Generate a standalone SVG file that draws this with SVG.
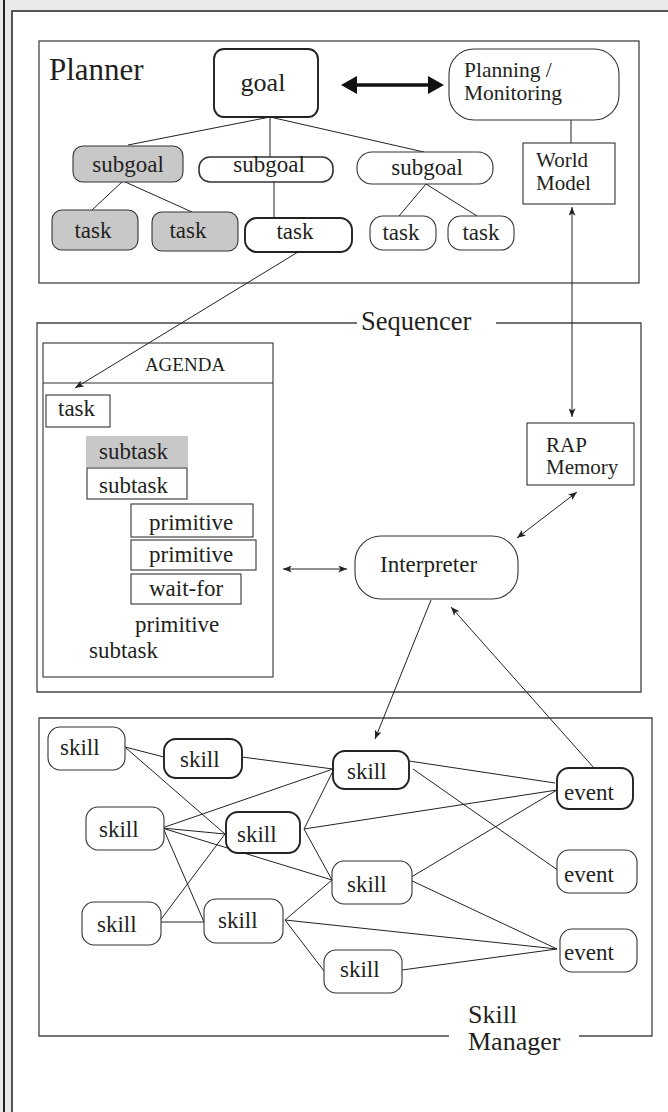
<svg xmlns="http://www.w3.org/2000/svg" width="668" height="1112" viewBox="0 0 668 1112">
<style>
text{fill:#231f20}
.n{fill:#fff;stroke:#333;stroke-width:1.1}
.k{fill:#fff;stroke:#222;stroke-width:1.9}
.g{fill:#c8c8c8;stroke:#333;stroke-width:1.1}
.b{fill:none;stroke:#444;stroke-width:1.3}
.c line{stroke:#222;stroke-width:1;fill:none}
.a{marker-end:url(#ah)}
.d{marker-start:url(#ah);marker-end:url(#ah)}
</style>
<defs>
<marker id="ah" viewBox="0 0 10 8" refX="10" refY="4" markerWidth="9" markerHeight="7" markerUnits="userSpaceOnUse" orient="auto-start-reverse">
<path d="M0,0 L10,4 L0,8 L2.5,4 z" fill="#222"/>
</marker>
</defs>
<g id="frame">
<rect width="668" height="1112" fill="#e8e9e9"/>
<rect x="13" y="12" width="655" height="1100" fill="#fff"/>
<path d="M12,1112 V11 H668" fill="none" stroke="#555" stroke-width="2"/>
<line x1="4" y1="0" x2="4" y2="1112" stroke="#222" stroke-width="2"/>
</g>
<g font-family="Liberation Serif, Times New Roman, serif" font-size="23">
<g id="planner">
<rect class="b" x="39" y="41" width="600" height="242"/>
<text x="49" y="80" font-size="31">Planner</text>
</g>
<g id="sequencer">
<path class="b" d="M357,323 H37 V692 H641 V323 H496"/>
<text x="361" y="330" font-size="26.5">Sequencer</text>
</g>
<g id="skillmanager">
<path class="b" d="M449,1036 H39 V718 H652 V1036 H579"/>
<text x="468" y="1023" font-size="26">Skill</text>
<text x="468" y="1050" font-size="26">Manager</text>
</g>
<g id="agenda">
<rect x="43" y="343" width="230" height="334" fill="none" stroke="#333" stroke-width="1.1"/>
<line x1="43" y1="383" x2="273" y2="383" stroke="#333" stroke-width="1.1"/>
<text x="185" y="371" font-size="19" text-anchor="middle">AGENDA</text>
</g>
<g id="connectors" class="c">
<line x1="270" y1="117" x2="128" y2="145"/>
<line x1="270" y1="117" x2="270" y2="157"/>
<line x1="270" y1="117" x2="424" y2="152"/>
<line x1="123" y1="181" x2="92" y2="210"/>
<line x1="123" y1="181" x2="192" y2="212"/>
<line x1="274" y1="182" x2="274" y2="218"/>
<line x1="426" y1="184" x2="399" y2="216"/>
<line x1="426" y1="184" x2="477" y2="216"/>
<line x1="571" y1="120" x2="571" y2="143"/>
<path d="M341,85 L357,76 L357,83.2 L428,83.2 L428,76 L444,85 L428,94 L428,86.8 L357,86.8 L357,94 Z" fill="#111"/>
<line class="d" x1="572" y1="207" x2="572" y2="417"/>
<line class="a" x1="298" y1="252" x2="75" y2="388"/>
<line class="d" x1="283" y1="569" x2="347" y2="569"/>
<line class="d" x1="577" y1="492" x2="517" y2="538"/>
<line class="a" x1="431" y1="600" x2="375" y2="739"/>
<line class="a" x1="594" y1="768" x2="451" y2="607"/>
<line x1="125" y1="747" x2="164" y2="757"/>
<line x1="126" y1="748" x2="225" y2="834"/>
<line x1="242" y1="757" x2="333" y2="769"/>
<line x1="162" y1="828" x2="333" y2="769"/>
<line x1="162" y1="828" x2="225" y2="834"/>
<line x1="162" y1="828" x2="332" y2="880"/>
<line x1="164" y1="830" x2="204" y2="922"/>
<line x1="159" y1="922" x2="225" y2="834"/>
<line x1="159" y1="922" x2="204" y2="922"/>
<line x1="304" y1="829" x2="333" y2="771"/>
<line x1="304" y1="829" x2="557" y2="790"/>
<line x1="304" y1="829" x2="332" y2="880"/>
<line x1="285" y1="920" x2="332" y2="880"/>
<line x1="285" y1="920" x2="557" y2="949"/>
<line x1="285" y1="920" x2="324" y2="971"/>
<line x1="402" y1="970" x2="557" y2="949"/>
<line x1="409" y1="761" x2="555" y2="783"/>
<line x1="413" y1="769" x2="559" y2="871"/>
<line x1="408" y1="879" x2="557" y2="790"/>
<line x1="408" y1="879" x2="557" y2="949"/>
</g>
<g id="goal"><rect class="k" x="214" y="49" width="104" height="68" rx="10"/><text x="263" y="91" font-size="26" text-anchor="middle">goal</text></g>
<g id="planning"><rect class="n" x="449" y="49" width="170" height="71" rx="25"/><text x="464" y="76.5" font-size="21.5">Planning /</text><text x="464" y="100" font-size="21.5">Monitoring</text></g>
<g id="worldmodel"><rect class="n" x="523" y="143" width="92" height="61"/><text x="536" y="167" font-size="21">World</text><text x="536" y="190" font-size="21">Model</text></g>
<g id="subgoal1"><rect class="g" x="73" y="146" width="110" height="36" rx="10"/><text x="128" y="172" text-anchor="middle">subgoal</text></g>
<g id="subgoal2"><rect class="n" style="stroke-width:1.6" x="199" y="157" width="134" height="25" rx="11"/><text x="269" y="172" text-anchor="middle">subgoal</text></g>
<g id="subgoal3"><rect class="n" x="357" y="152" width="136" height="32" rx="15"/><text x="427" y="175" text-anchor="middle">subgoal</text></g>
<g id="task1"><rect class="g" x="52" y="210" width="86" height="40" rx="10"/><text x="93" y="238" text-anchor="middle">task</text></g>
<g id="task2"><rect class="g" x="152" y="212" width="86" height="39" rx="10"/><text x="188" y="238" text-anchor="middle">task</text></g>
<g id="task3"><rect class="k" x="245" y="218" width="107" height="34" rx="12"/><text x="295" y="239" text-anchor="middle">task</text></g>
<g id="task4"><rect class="n" x="370" y="216" width="66" height="34" rx="13"/><text x="401" y="240" text-anchor="middle">task</text></g>
<g id="task5"><rect class="n" x="448" y="216" width="66" height="34" rx="13"/><text x="481" y="240" text-anchor="middle">task</text></g>
<g id="agenda-task"><rect class="n" x="46" y="395" width="64" height="32"/><text x="58" y="416">task</text></g>
<g id="subtask-grey"><rect x="86" y="436" width="102" height="31" fill="#c8c8c8"/><text x="99" y="459">subtask</text></g>
<g id="subtask"><rect class="n" x="87" y="468" width="100" height="31"/><text x="99" y="493">subtask</text></g>
<g id="primitive1"><rect class="n" x="131" y="504" width="122" height="33"/><text x="149" y="530">primitive</text></g>
<g id="primitive2"><rect class="n" x="131" y="540" width="125" height="30"/><text x="149" y="562">primitive</text></g>
<g id="waitfor"><rect class="n" x="131" y="574" width="110" height="30"/><text x="149" y="596">wait-for</text></g>
<g id="primitive3"><text x="135" y="632">primitive</text></g>
<g id="subtask2"><text x="89" y="658">subtask</text></g>
<g id="rapmemory"><rect class="n" x="527" y="423" width="107" height="62"/><text x="546" y="452" font-size="21">RAP</text><text x="546" y="474" font-size="21">Memory</text></g>
<g id="interpreter"><rect class="n" x="355" y="536" width="163" height="63" rx="26"/><text x="380" y="572">Interpreter</text></g>
<g id="skill1"><rect class="n" x="48" y="727" width="77" height="43" rx="12"/><text x="60" y="755">skill</text></g>
<g id="skill2"><rect class="k" x="164" y="739" width="78" height="39" rx="12"/><text x="180" y="767">skill</text></g>
<g id="skill3"><rect class="n" x="86" y="807" width="78" height="43" rx="12"/><text x="99" y="837">skill</text></g>
<g id="skill4"><rect class="k" x="226" y="812" width="74" height="41" rx="12"/><text x="237" y="842">skill</text></g>
<g id="skill5"><rect class="n" x="82" y="902" width="79" height="43" rx="12"/><text x="97" y="932">skill</text></g>
<g id="skill6"><rect class="n" x="204" y="899" width="79" height="44" rx="12"/><text x="218" y="928">skill</text></g>
<g id="skill7"><rect class="k" x="333" y="751" width="76" height="38" rx="12"/><text x="347" y="779">skill</text></g>
<g id="skill8"><rect class="n" x="332" y="861" width="80" height="43" rx="12"/><text x="347" y="892">skill</text></g>
<g id="skill9"><rect class="n" x="324" y="950" width="78" height="43" rx="12"/><text x="340" y="977">skill</text></g>
<g id="event1"><rect class="k" x="557" y="768" width="76" height="41" rx="12"/><text x="564" y="800">event</text></g>
<g id="event2"><rect class="n" x="557" y="850" width="80" height="43" rx="12"/><text x="564" y="882">event</text></g>
<g id="event3"><rect class="n" x="560" y="929" width="77" height="43" rx="12"/><text x="564" y="960">event</text></g>
</g>
</svg>
